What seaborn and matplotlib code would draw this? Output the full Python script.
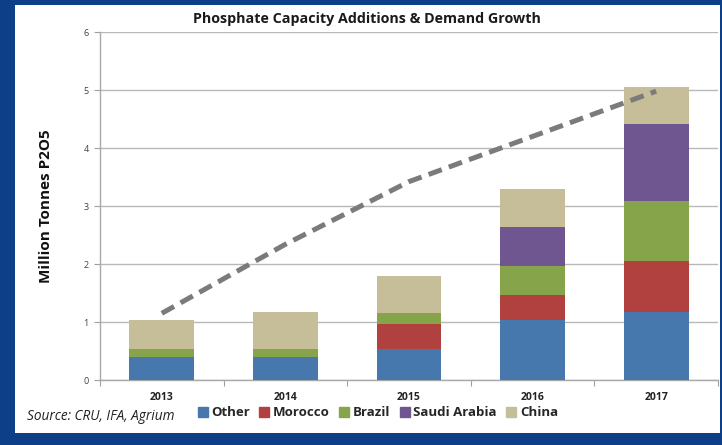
import numpy as np
import pandas as pd
import matplotlib
matplotlib.use("Agg")
import matplotlib.pyplot as plt
from matplotlib.patches import Rectangle
from matplotlib.lines import Line2D
import seaborn as sns

years = ["2013", "2014", "2015", "2016", "2017"]
series_names = ["Other", "Morocco", "Brazil", "Saudi Arabia", "China"]
other = [0.40, 0.40, 0.53, 1.03, 1.17]
morocco = [0.00, 0.00, 0.43, 0.44, 0.88]
brazil = [0.14, 0.14, 0.19, 0.49, 1.04]
saudi_arabia = [0.00, 0.00, 0.00, 0.67, 1.32]
china = [0.49, 0.64, 0.65, 0.66, 0.64]
demand_growth = [1.15, 2.34, 3.42, 4.20, 4.98]

colors = ["#4677ad", "#b0413e", "#86a44a", "#6f5690", "#c6be98"]
frame_blue = "#0c3f87"

sns.set_theme(style="white")
plt.rcParams["font.family"] = ["Open Sans", "DejaVu Sans"]

fig = plt.figure(figsize=(7.22, 4.45), dpi=100)
fig.patch.set_facecolor(frame_blue)
# white card behind the chart
fig.patches.append(Rectangle((15 / 722, 12 / 445), (720 - 15) / 722, (440 - 12) / 445,
                             transform=fig.transFigure, facecolor="white",
                             edgecolor="none", zorder=-5))

ax = fig.add_axes([100 / 722, 1 - 380 / 445, (718 - 100) / 722, (380 - 32) / 445])
ax.set_facecolor("white")
ax.set_zorder(1)

df = pd.DataFrame({"year": years, "Other": other, "Morocco": morocco,
                   "Brazil": brazil, "Saudi Arabia": saudi_arabia, "China": china})
stack = df[series_names].cumsum(axis=1)

# draw cumulative totals from the top layer down so each segment shows through
for name, col in reversed(list(zip(series_names, colors))):
    sns.barplot(x=df["year"], y=stack[name], color=col, width=0.525,
                saturation=1, ax=ax, zorder=3, linewidth=0)

sns.lineplot(x=np.arange(len(years)), y=demand_growth, ax=ax, color="#7b7b7b",
             linewidth=3.6, zorder=4)
ax.lines[-1].set_dashes([2.8, 1.5])
ax.lines[-1].set_solid_capstyle("butt")

ax.set_ylim(0, 6)
ax.set_xlim(-0.5, 4.5)
ax.set_yticks(range(7))
ax.set_yticklabels([str(v) for v in range(7)], fontsize=6.5, color="#404040")
ax.yaxis.grid(True, color="#b8b8b8", linewidth=1.0, zorder=0)
ax.set_axisbelow(True)
ax.tick_params(axis="y", which="major", length=4, width=0.8, color="#a0a0a0",
               left=True, pad=4)
ax.set_xticks(np.arange(len(years)))
ax.set_xticklabels(years, fontsize=7.5, fontweight="bold", color="#222222")
ax.tick_params(axis="x", length=0, pad=9)
ax.set_xticks(np.arange(-0.5, 5.0, 1.0), minor=True)
ax.tick_params(axis="x", which="minor", length=4, width=0.8, color="#a0a0a0",
               bottom=True)
for side in ["top", "right"]:
    ax.spines[side].set_visible(False)
for side in ["left", "bottom"]:
    ax.spines[side].set_color("#a8a8a8")
    ax.spines[side].set_linewidth(1.0)
ax.set_xlabel("")
ax.set_ylabel("Million Tonnes P2O5", fontsize=11, fontweight="bold",
              color="#111111", labelpad=22)

fig.text(367 / 722, 1 - 19 / 445, "Phosphate Capacity Additions & Demand Growth",
         ha="center", va="center", fontsize=10.3, fontweight="bold", color="#1a1a1a")
fig.text(27 / 722, 1 - 416 / 445, "Source: CRU, IFA, Agrium", ha="left",
         va="center", fontsize=9.8, style="italic", color="#222222")

handles = [Line2D([0], [0], marker="s", linestyle="none", markersize=6.5,
                  markerfacecolor=c, markeredgecolor=c) for c in colors]
fig.legend(handles, series_names, loc="center", ncol=5,
           bbox_to_anchor=(377 / 722, 1 - 413 / 445), frameon=False,
           prop={"size": 9.5, "weight": "bold"}, handletextpad=0.15,
           columnspacing=0.6, handlelength=1.0)

fig.savefig("out.png", dpi=100, facecolor=fig.get_facecolor())
